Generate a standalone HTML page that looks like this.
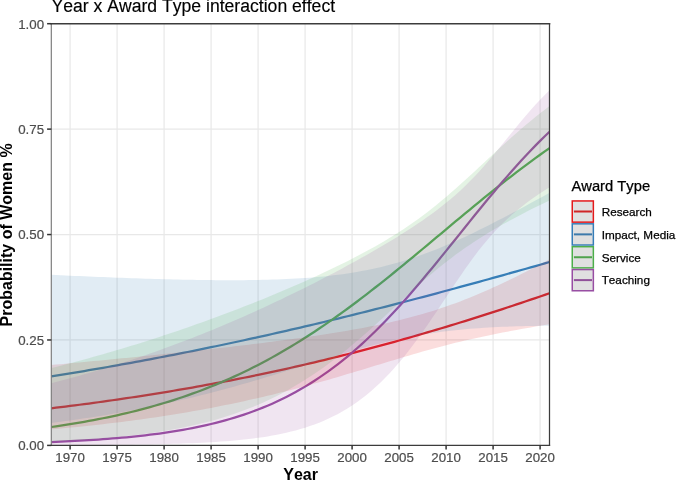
<!DOCTYPE html>
<html><head><meta charset="utf-8"><title>Year x Award Type interaction effect</title>
<style>
html,body{margin:0;padding:0;background:#fff;}
body{width:685px;height:480px;overflow:hidden;}
svg{display:block;font-family:"Liberation Sans",Arial,Helvetica,sans-serif;font-kerning:none;font-variant-ligatures:none;}
</style></head><body>
<svg width="685" height="480" viewBox="0 0 685 480">
<rect width="685" height="480" fill="#fff"/>
<defs><clipPath id="pc"><rect x="51.3" y="23.7" width="498.2" height="421.7"/></clipPath></defs>
<g stroke="#e8e8e8" stroke-width="1.2">
<line x1="70.10" x2="70.10" y1="23.7" y2="445.4"/>
<line x1="117.10" x2="117.10" y1="23.7" y2="445.4"/>
<line x1="164.10" x2="164.10" y1="23.7" y2="445.4"/>
<line x1="211.10" x2="211.10" y1="23.7" y2="445.4"/>
<line x1="258.10" x2="258.10" y1="23.7" y2="445.4"/>
<line x1="305.10" x2="305.10" y1="23.7" y2="445.4"/>
<line x1="352.10" x2="352.10" y1="23.7" y2="445.4"/>
<line x1="399.10" x2="399.10" y1="23.7" y2="445.4"/>
<line x1="446.10" x2="446.10" y1="23.7" y2="445.4"/>
<line x1="493.10" x2="493.10" y1="23.7" y2="445.4"/>
<line x1="540.10" x2="540.10" y1="23.7" y2="445.4"/>
<line x1="51.3" x2="549.5" y1="339.97" y2="339.97"/>
<line x1="51.3" x2="549.5" y1="234.55" y2="234.55"/>
<line x1="51.3" x2="549.5" y1="129.12" y2="129.12"/>
</g>
<g clip-path="url(#pc)">
<path d="M51.30,408.28 L56.00,407.71 L60.70,407.14 L65.40,406.55 L70.10,405.96 L74.80,405.36 L79.50,404.75 L84.20,404.14 L88.90,403.51 L93.60,402.88 L98.30,402.24 L103.00,401.59 L107.70,400.93 L112.40,400.26 L117.10,399.59 L121.80,398.90 L126.50,398.21 L131.20,397.51 L135.90,396.80 L140.60,396.07 L145.30,395.34 L150.00,394.60 L154.70,393.86 L159.40,393.10 L164.10,392.33 L168.80,391.55 L173.50,390.76 L178.20,389.97 L182.90,389.16 L187.60,388.34 L192.30,387.52 L197.00,386.68 L201.70,385.83 L206.40,384.97 L211.10,384.11 L215.80,383.23 L220.50,382.34 L225.20,381.44 L229.90,380.53 L234.60,379.61 L239.30,378.68 L244.00,377.74 L248.70,376.79 L253.40,375.83 L258.10,374.85 L262.80,373.87 L267.50,372.87 L272.20,371.87 L276.90,370.85 L281.60,369.82 L286.30,368.79 L291.00,367.74 L295.70,366.67 L300.40,365.60 L305.10,364.52 L309.80,363.42 L314.50,362.32 L319.20,361.20 L323.90,360.07 L328.60,358.93 L333.30,357.78 L338.00,356.62 L342.70,355.45 L347.40,354.26 L352.10,353.07 L356.80,351.86 L361.50,350.64 L366.20,349.41 L370.90,348.17 L375.60,346.92 L380.30,345.66 L385.00,344.38 L389.70,343.10 L394.40,341.80 L399.10,340.49 L403.80,339.17 L408.50,337.84 L413.20,336.50 L417.90,335.15 L422.60,333.79 L427.30,332.42 L432.00,331.03 L436.70,329.64 L441.40,328.24 L446.10,326.82 L450.80,325.40 L455.50,323.96 L460.20,322.52 L464.90,321.06 L469.60,319.59 L474.30,318.12 L479.00,316.63 L483.70,315.14 L488.40,313.63 L493.10,312.12 L497.80,310.60 L502.50,309.06 L507.20,307.52 L511.90,305.97 L516.60,304.41 L521.30,302.84 L526.00,301.27 L530.70,299.68 L535.40,298.09 L540.10,296.49 L544.80,294.88 L549.50,293.26" fill="none" stroke="#E41A1C" stroke-width="2.25" stroke-linejoin="round"/>
<path d="M51.30,376.41 L56.00,375.66 L60.70,374.90 L65.40,374.14 L70.10,373.37 L74.80,372.60 L79.50,371.82 L84.20,371.03 L88.90,370.23 L93.60,369.43 L98.30,368.62 L103.00,367.81 L107.70,366.99 L112.40,366.16 L117.10,365.32 L121.80,364.48 L126.50,363.64 L131.20,362.78 L135.90,361.92 L140.60,361.05 L145.30,360.18 L150.00,359.29 L154.70,358.41 L159.40,357.51 L164.10,356.61 L168.80,355.70 L173.50,354.78 L178.20,353.86 L182.90,352.93 L187.60,352.00 L192.30,351.05 L197.00,350.10 L201.70,349.15 L206.40,348.18 L211.10,347.21 L215.80,346.24 L220.50,345.26 L225.20,344.27 L229.90,343.27 L234.60,342.27 L239.30,341.26 L244.00,340.24 L248.70,339.22 L253.40,338.19 L258.10,337.15 L262.80,336.11 L267.50,335.06 L272.20,334.00 L276.90,332.94 L281.60,331.87 L286.30,330.80 L291.00,329.72 L295.70,328.63 L300.40,327.54 L305.10,326.43 L309.80,325.33 L314.50,324.22 L319.20,323.10 L323.90,321.97 L328.60,320.84 L333.30,319.71 L338.00,318.56 L342.70,317.41 L347.40,316.26 L352.10,315.10 L356.80,313.93 L361.50,312.76 L366.20,311.58 L370.90,310.40 L375.60,309.21 L380.30,308.02 L385.00,306.82 L389.70,305.62 L394.40,304.41 L399.10,303.19 L403.80,301.97 L408.50,300.75 L413.20,299.52 L417.90,298.28 L422.60,297.04 L427.30,295.80 L432.00,294.55 L436.70,293.29 L441.40,292.03 L446.10,290.77 L450.80,289.50 L455.50,288.23 L460.20,286.96 L464.90,285.68 L469.60,284.39 L474.30,283.11 L479.00,281.81 L483.70,280.52 L488.40,279.22 L493.10,277.92 L497.80,276.61 L502.50,275.30 L507.20,273.99 L511.90,272.67 L516.60,271.35 L521.30,270.03 L526.00,268.71 L530.70,267.38 L535.40,266.05 L540.10,264.72 L544.80,263.38 L549.50,262.04" fill="none" stroke="#377EB8" stroke-width="2.25" stroke-linejoin="round"/>
<path d="M51.30,427.01 L56.00,426.34 L60.70,425.65 L65.40,424.94 L70.10,424.20 L74.80,423.43 L79.50,422.64 L84.20,421.82 L88.90,420.98 L93.60,420.11 L98.30,419.20 L103.00,418.27 L107.70,417.31 L112.40,416.31 L117.10,415.28 L121.80,414.22 L126.50,413.13 L131.20,411.99 L135.90,410.83 L140.60,409.62 L145.30,408.38 L150.00,407.10 L154.70,405.78 L159.40,404.42 L164.10,403.02 L168.80,401.57 L173.50,400.08 L178.20,398.55 L182.90,396.97 L187.60,395.35 L192.30,393.68 L197.00,391.96 L201.70,390.19 L206.40,388.37 L211.10,386.50 L215.80,384.59 L220.50,382.62 L225.20,380.59 L229.90,378.52 L234.60,376.39 L239.30,374.21 L244.00,371.97 L248.70,369.68 L253.40,367.33 L258.10,364.93 L262.80,362.47 L267.50,359.95 L272.20,357.38 L276.90,354.75 L281.60,352.06 L286.30,349.32 L291.00,346.52 L295.70,343.66 L300.40,340.75 L305.10,337.78 L309.80,334.76 L314.50,331.69 L319.20,328.56 L323.90,325.38 L328.60,322.15 L333.30,318.86 L338.00,315.53 L342.70,312.15 L347.40,308.72 L352.10,305.25 L356.80,301.73 L361.50,298.18 L366.20,294.58 L370.90,290.94 L375.60,287.26 L380.30,283.56 L385.00,279.82 L389.70,276.04 L394.40,272.25 L399.10,268.42 L403.80,264.58 L408.50,260.71 L413.20,256.82 L417.90,252.92 L422.60,249.01 L427.30,245.08 L432.00,241.15 L436.70,237.22 L441.40,233.28 L446.10,229.34 L450.80,225.41 L455.50,221.48 L460.20,217.57 L464.90,213.66 L469.60,209.77 L474.30,205.89 L479.00,202.04 L483.70,198.21 L488.40,194.40 L493.10,190.62 L497.80,186.87 L502.50,183.15 L507.20,179.46 L511.90,175.81 L516.60,172.20 L521.30,168.62 L526.00,165.09 L530.70,161.60 L535.40,158.16 L540.10,154.76 L544.80,151.41 L549.50,148.11" fill="none" stroke="#4DAF4A" stroke-width="2.25" stroke-linejoin="round"/>
<path d="M51.30,442.02 L56.00,441.82 L60.70,441.62 L65.40,441.41 L70.10,441.18 L74.80,440.94 L79.50,440.69 L84.20,440.43 L88.90,440.15 L93.60,439.85 L98.30,439.54 L103.00,439.21 L107.70,438.86 L112.40,438.49 L117.10,438.11 L121.80,437.70 L126.50,437.27 L131.20,436.81 L135.90,436.33 L140.60,435.83 L145.30,435.29 L150.00,434.73 L154.70,434.14 L159.40,433.52 L164.10,432.86 L168.80,432.16 L173.50,431.43 L178.20,430.66 L182.90,429.86 L187.60,429.00 L192.30,428.11 L197.00,427.16 L201.70,426.17 L206.40,425.12 L211.10,424.02 L215.80,422.87 L220.50,421.66 L225.20,420.38 L229.90,419.04 L234.60,417.64 L239.30,416.16 L244.00,414.62 L248.70,412.99 L253.40,411.29 L258.10,409.51 L262.80,407.65 L267.50,405.70 L272.20,403.66 L276.90,401.52 L281.60,399.29 L286.30,396.96 L291.00,394.53 L295.70,392.00 L300.40,389.35 L305.10,386.60 L309.80,383.74 L314.50,380.76 L319.20,377.66 L323.90,374.44 L328.60,371.11 L333.30,367.65 L338.00,364.07 L342.70,360.36 L347.40,356.53 L352.10,352.58 L356.80,348.50 L361.50,344.29 L366.20,339.97 L370.90,335.52 L375.60,330.95 L380.30,326.26 L385.00,321.46 L389.70,316.55 L394.40,311.53 L399.10,306.41 L403.80,301.19 L408.50,295.88 L413.20,290.48 L417.90,285.00 L422.60,279.45 L427.30,273.83 L432.00,268.16 L436.70,262.43 L441.40,256.66 L446.10,250.86 L450.80,245.03 L455.50,239.19 L460.20,233.34 L464.90,227.49 L469.60,221.65 L474.30,215.83 L479.00,210.04 L483.70,204.29 L488.40,198.59 L493.10,192.93 L497.80,187.34 L502.50,181.82 L507.20,176.37 L511.90,171.01 L516.60,165.74 L521.30,160.56 L526.00,155.48 L530.70,150.50 L535.40,145.64 L540.10,140.88 L544.80,136.24 L549.50,131.72" fill="none" stroke="#984EA3" stroke-width="2.25" stroke-linejoin="round"/>
<path d="M51.30,365.01 L56.00,364.58 L60.70,364.16 L65.40,363.73 L70.10,363.29 L74.80,362.86 L79.50,362.42 L84.20,361.98 L88.90,361.54 L93.60,361.09 L98.30,360.65 L103.00,360.20 L107.70,359.75 L112.40,359.29 L117.10,358.83 L121.80,358.37 L126.50,357.91 L131.20,357.45 L135.90,356.98 L140.60,356.50 L145.30,356.03 L150.00,355.55 L154.70,355.07 L159.40,354.59 L164.10,354.10 L168.80,353.61 L173.50,353.12 L178.20,352.62 L182.90,352.12 L187.60,351.61 L192.30,351.10 L197.00,350.59 L201.70,350.07 L206.40,349.55 L211.10,349.03 L215.80,348.50 L220.50,347.96 L225.20,347.43 L229.90,346.88 L234.60,346.33 L239.30,345.78 L244.00,345.22 L248.70,344.65 L253.40,344.08 L258.10,343.50 L262.80,342.91 L267.50,342.32 L272.20,341.72 L276.90,341.11 L281.60,340.50 L286.30,339.87 L291.00,339.24 L295.70,338.59 L300.40,337.94 L305.10,337.28 L309.80,336.60 L314.50,335.91 L319.20,335.21 L323.90,334.50 L328.60,333.77 L333.30,333.02 L338.00,332.26 L342.70,331.48 L347.40,330.68 L352.10,329.86 L356.80,329.02 L361.50,328.16 L366.20,327.27 L370.90,326.36 L375.60,325.41 L380.30,324.44 L385.00,323.43 L389.70,322.39 L394.40,321.31 L399.10,320.20 L403.80,319.04 L408.50,317.84 L413.20,316.60 L417.90,315.31 L422.60,313.97 L427.30,312.58 L432.00,311.14 L436.70,309.65 L441.40,308.10 L446.10,306.50 L450.80,304.85 L455.50,303.14 L460.20,301.38 L464.90,299.56 L469.60,297.69 L474.30,295.77 L479.00,293.80 L483.70,291.78 L488.40,289.71 L493.10,287.59 L497.80,285.43 L502.50,283.23 L507.20,280.99 L511.90,278.71 L516.60,276.39 L521.30,274.04 L526.00,271.66 L530.70,269.24 L535.40,266.79 L540.10,264.32 L544.80,261.82 L549.50,259.29 L549.50,324.23 L544.80,325.00 L540.10,325.79 L535.40,326.58 L530.70,327.40 L526.00,328.22 L521.30,329.06 L516.60,329.91 L511.90,330.78 L507.20,331.66 L502.50,332.57 L497.80,333.49 L493.10,334.44 L488.40,335.40 L483.70,336.39 L479.00,337.41 L474.30,338.44 L469.60,339.51 L464.90,340.60 L460.20,341.71 L455.50,342.85 L450.80,344.02 L446.10,345.22 L441.40,346.45 L436.70,347.69 L432.00,348.97 L427.30,350.27 L422.60,351.59 L417.90,352.93 L413.20,354.29 L408.50,355.67 L403.80,357.06 L399.10,358.46 L394.40,359.88 L389.70,361.30 L385.00,362.73 L380.30,364.16 L375.60,365.59 L370.90,367.02 L366.20,368.45 L361.50,369.88 L356.80,371.30 L352.10,372.71 L347.40,374.12 L342.70,375.51 L338.00,376.90 L333.30,378.27 L328.60,379.63 L323.90,380.97 L319.20,382.30 L314.50,383.61 L309.80,384.91 L305.10,386.19 L300.40,387.46 L295.70,388.70 L291.00,389.93 L286.30,391.14 L281.60,392.33 L276.90,393.50 L272.20,394.65 L267.50,395.78 L262.80,396.90 L258.10,397.99 L253.40,399.07 L248.70,400.12 L244.00,401.16 L239.30,402.18 L234.60,403.18 L229.90,404.16 L225.20,405.12 L220.50,406.06 L215.80,406.98 L211.10,407.89 L206.40,408.78 L201.70,409.65 L197.00,410.50 L192.30,411.33 L187.60,412.15 L182.90,412.95 L178.20,413.73 L173.50,414.49 L168.80,415.24 L164.10,415.98 L159.40,416.69 L154.70,417.39 L150.00,418.08 L145.30,418.75 L140.60,419.41 L135.90,420.05 L131.20,420.67 L126.50,421.29 L121.80,421.88 L117.10,422.47 L112.40,423.04 L107.70,423.60 L103.00,424.14 L98.30,424.68 L93.60,425.20 L88.90,425.70 L84.20,426.20 L79.50,426.68 L74.80,427.16 L70.10,427.62 L65.40,428.07 L60.70,428.51 L56.00,428.94 L51.30,429.36Z" fill="#E41A1C" fill-opacity="0.15"/>
<path d="M51.30,274.84 L56.00,275.06 L60.70,275.28 L65.40,275.49 L70.10,275.71 L74.80,275.91 L79.50,276.12 L84.20,276.32 L88.90,276.52 L93.60,276.72 L98.30,276.91 L103.00,277.11 L107.70,277.29 L112.40,277.48 L117.10,277.65 L121.80,277.83 L126.50,278.00 L131.20,278.17 L135.90,278.33 L140.60,278.49 L145.30,278.64 L150.00,278.79 L154.70,278.93 L159.40,279.07 L164.10,279.20 L168.80,279.32 L173.50,279.44 L178.20,279.55 L182.90,279.65 L187.60,279.75 L192.30,279.84 L197.00,279.92 L201.70,279.99 L206.40,280.05 L211.10,280.11 L215.80,280.15 L220.50,280.18 L225.20,280.20 L229.90,280.21 L234.60,280.20 L239.30,280.19 L244.00,280.15 L248.70,280.11 L253.40,280.04 L258.10,279.97 L262.80,279.87 L267.50,279.75 L272.20,279.62 L276.90,279.46 L281.60,279.28 L286.30,279.07 L291.00,278.85 L295.70,278.59 L300.40,278.30 L305.10,277.99 L309.80,277.64 L314.50,277.26 L319.20,276.84 L323.90,276.39 L328.60,275.89 L333.30,275.36 L338.00,274.78 L342.70,274.15 L347.40,273.47 L352.10,272.74 L356.80,271.96 L361.50,271.12 L366.20,270.23 L370.90,269.27 L375.60,268.26 L380.30,267.18 L385.00,266.04 L389.70,264.83 L394.40,263.56 L399.10,262.22 L403.80,260.81 L408.50,259.34 L413.20,257.80 L417.90,256.19 L422.60,254.52 L427.30,252.79 L432.00,251.00 L436.70,249.14 L441.40,247.23 L446.10,245.26 L450.80,243.24 L455.50,241.17 L460.20,239.04 L464.90,236.88 L469.60,234.66 L474.30,232.41 L479.00,230.12 L483.70,227.79 L488.40,225.43 L493.10,223.04 L497.80,220.62 L502.50,218.17 L507.20,215.71 L511.90,213.22 L516.60,210.71 L521.30,208.18 L526.00,205.65 L530.70,203.10 L535.40,200.54 L540.10,197.97 L544.80,195.39 L549.50,192.82 L549.50,325.73 L544.80,325.76 L540.10,325.82 L535.40,325.88 L530.70,325.97 L526.00,326.06 L521.30,326.18 L516.60,326.31 L511.90,326.46 L507.20,326.63 L502.50,326.82 L497.80,327.04 L493.10,327.28 L488.40,327.54 L483.70,327.83 L479.00,328.15 L474.30,328.49 L469.60,328.87 L464.90,329.28 L460.20,329.72 L455.50,330.20 L450.80,330.71 L446.10,331.26 L441.40,331.85 L436.70,332.49 L432.00,333.16 L427.30,333.87 L422.60,334.63 L417.90,335.43 L413.20,336.28 L408.50,337.17 L403.80,338.11 L399.10,339.09 L394.40,340.11 L389.70,341.17 L385.00,342.28 L380.30,343.42 L375.60,344.60 L370.90,345.82 L366.20,347.07 L361.50,348.35 L356.80,349.67 L352.10,351.00 L347.40,352.37 L342.70,353.75 L338.00,355.15 L333.30,356.57 L328.60,358.00 L323.90,359.44 L319.20,360.90 L314.50,362.35 L309.80,363.81 L305.10,365.28 L300.40,366.74 L295.70,368.20 L291.00,369.66 L286.30,371.12 L281.60,372.56 L276.90,374.00 L272.20,375.43 L267.50,376.84 L262.80,378.25 L258.10,379.64 L253.40,381.02 L248.70,382.38 L244.00,383.73 L239.30,385.06 L234.60,386.38 L229.90,387.67 L225.20,388.95 L220.50,390.21 L215.80,391.46 L211.10,392.68 L206.40,393.88 L201.70,395.07 L197.00,396.23 L192.30,397.38 L187.60,398.50 L182.90,399.61 L178.20,400.69 L173.50,401.76 L168.80,402.80 L164.10,403.83 L159.40,404.84 L154.70,405.82 L150.00,406.79 L145.30,407.74 L140.60,408.66 L135.90,409.57 L131.20,410.46 L126.50,411.33 L121.80,412.18 L117.10,413.02 L112.40,413.83 L107.70,414.63 L103.00,415.41 L98.30,416.18 L93.60,416.92 L88.90,417.65 L84.20,418.36 L79.50,419.06 L74.80,419.74 L70.10,420.40 L65.40,421.05 L60.70,421.68 L56.00,422.30 L51.30,422.91Z" fill="#377EB8" fill-opacity="0.15"/>
<path d="M51.30,368.10 L56.00,366.91 L60.70,365.71 L65.40,364.49 L70.10,363.25 L74.80,362.00 L79.50,360.74 L84.20,359.46 L88.90,358.16 L93.60,356.86 L98.30,355.53 L103.00,354.19 L107.70,352.83 L112.40,351.46 L117.10,350.08 L121.80,348.68 L126.50,347.26 L131.20,345.83 L135.90,344.38 L140.60,342.91 L145.30,341.43 L150.00,339.94 L154.70,338.42 L159.40,336.90 L164.10,335.35 L168.80,333.79 L173.50,332.22 L178.20,330.63 L182.90,329.02 L187.60,327.39 L192.30,325.75 L197.00,324.10 L201.70,322.42 L206.40,320.73 L211.10,319.03 L215.80,317.31 L220.50,315.57 L225.20,313.81 L229.90,312.04 L234.60,310.25 L239.30,308.44 L244.00,306.61 L248.70,304.77 L253.40,302.91 L258.10,301.03 L262.80,299.13 L267.50,297.21 L272.20,295.28 L276.90,293.32 L281.60,291.35 L286.30,289.35 L291.00,287.33 L295.70,285.30 L300.40,283.23 L305.10,281.15 L309.80,279.04 L314.50,276.91 L319.20,274.75 L323.90,272.56 L328.60,270.35 L333.30,268.10 L338.00,265.82 L342.70,263.51 L347.40,261.16 L352.10,258.77 L356.80,256.33 L361.50,253.86 L366.20,251.33 L370.90,248.76 L375.60,246.13 L380.30,243.44 L385.00,240.68 L389.70,237.85 L394.40,234.95 L399.10,231.97 L403.80,228.90 L408.50,225.75 L413.20,222.50 L417.90,219.15 L422.60,215.70 L427.30,212.14 L432.00,208.49 L436.70,204.73 L441.40,200.87 L446.10,196.91 L450.80,192.87 L455.50,188.74 L460.20,184.55 L464.90,180.29 L469.60,175.99 L474.30,171.64 L479.00,167.28 L483.70,162.90 L488.40,158.52 L493.10,154.16 L497.80,149.82 L502.50,145.51 L507.20,141.25 L511.90,137.04 L516.60,132.89 L521.30,128.81 L526.00,124.80 L530.70,120.88 L535.40,117.04 L540.10,113.29 L544.80,109.63 L549.50,106.07 L549.50,200.43 L544.80,202.68 L540.10,204.96 L535.40,207.27 L530.70,209.62 L526.00,212.01 L521.30,214.44 L516.60,216.91 L511.90,219.43 L507.20,222.00 L502.50,224.62 L497.80,227.30 L493.10,230.05 L488.40,232.86 L483.70,235.75 L479.00,238.71 L474.30,241.76 L469.60,244.89 L464.90,248.12 L460.20,251.45 L455.50,254.87 L450.80,258.39 L446.10,262.02 L441.40,265.75 L436.70,269.58 L432.00,273.50 L427.30,277.52 L422.60,281.61 L417.90,285.77 L413.20,289.99 L408.50,294.26 L403.80,298.57 L399.10,302.91 L394.40,307.25 L389.70,311.60 L385.00,315.94 L380.30,320.25 L375.60,324.53 L370.90,328.76 L366.20,332.94 L361.50,337.06 L356.80,341.12 L352.10,345.10 L347.40,349.00 L342.70,352.81 L338.00,356.53 L333.30,360.16 L328.60,363.70 L323.90,367.13 L319.20,370.47 L314.50,373.70 L309.80,376.83 L305.10,379.86 L300.40,382.79 L295.70,385.61 L291.00,388.34 L286.30,390.96 L281.60,393.49 L276.90,395.91 L272.20,398.25 L267.50,400.49 L262.80,402.63 L258.10,404.69 L253.40,406.67 L248.70,408.56 L244.00,410.36 L239.30,412.09 L234.60,413.74 L229.90,415.32 L225.20,416.82 L220.50,418.26 L215.80,419.63 L211.10,420.94 L206.40,422.18 L201.70,423.37 L197.00,424.50 L192.30,425.57 L187.60,426.59 L182.90,427.56 L178.20,428.49 L173.50,429.37 L168.80,430.20 L164.10,431.00 L159.40,431.75 L154.70,432.47 L150.00,433.15 L145.30,433.79 L140.60,434.41 L135.90,434.99 L131.20,435.54 L126.50,436.06 L121.80,436.56 L117.10,437.03 L112.40,437.47 L107.70,437.90 L103.00,438.30 L98.30,438.68 L93.60,439.04 L88.90,439.38 L84.20,439.70 L79.50,440.01 L74.80,440.30 L70.10,440.57 L65.40,440.83 L60.70,441.08 L56.00,441.31 L51.30,441.53Z" fill="#4DAF4A" fill-opacity="0.15"/>
<path d="M51.30,383.25 L56.00,382.04 L60.70,380.81 L65.40,379.57 L70.10,378.30 L74.80,377.01 L79.50,375.70 L84.20,374.37 L88.90,373.03 L93.60,371.66 L98.30,370.27 L103.00,368.85 L107.70,367.42 L112.40,365.97 L117.10,364.49 L121.80,363.00 L126.50,361.48 L131.20,359.94 L135.90,358.38 L140.60,356.80 L145.30,355.19 L150.00,353.56 L154.70,351.92 L159.40,350.25 L164.10,348.55 L168.80,346.84 L173.50,345.10 L178.20,343.34 L182.90,341.56 L187.60,339.76 L192.30,337.94 L197.00,336.09 L201.70,334.22 L206.40,332.33 L211.10,330.42 L215.80,328.48 L220.50,326.53 L225.20,324.55 L229.90,322.55 L234.60,320.53 L239.30,318.48 L244.00,316.42 L248.70,314.33 L253.40,312.22 L258.10,310.09 L262.80,307.94 L267.50,305.77 L272.20,303.58 L276.90,301.37 L281.60,299.13 L286.30,296.87 L291.00,294.60 L295.70,292.30 L300.40,289.98 L305.10,287.64 L309.80,285.28 L314.50,282.90 L319.20,280.49 L323.90,278.07 L328.60,275.62 L333.30,273.15 L338.00,270.66 L342.70,268.14 L347.40,265.60 L352.10,263.04 L356.80,260.45 L361.50,257.83 L366.20,255.19 L370.90,252.52 L375.60,249.81 L380.30,247.07 L385.00,244.30 L389.70,241.49 L394.40,238.64 L399.10,235.74 L403.80,232.79 L408.50,229.79 L413.20,226.73 L417.90,223.59 L422.60,220.39 L427.30,217.10 L432.00,213.71 L436.70,210.21 L441.40,206.60 L446.10,202.85 L450.80,198.95 L455.50,194.89 L460.20,190.64 L464.90,186.21 L469.60,181.57 L474.30,176.73 L479.00,171.69 L483.70,166.45 L488.40,161.04 L493.10,155.48 L497.80,149.81 L502.50,144.06 L507.20,138.27 L511.90,132.48 L516.60,126.74 L521.30,121.08 L526.00,115.53 L530.70,110.12 L535.40,104.87 L540.10,99.80 L544.80,94.93 L549.50,90.26 L549.50,187.13 L544.80,190.15 L540.10,193.26 L535.40,196.49 L530.70,199.85 L526.00,203.34 L521.30,206.99 L516.60,210.82 L511.90,214.85 L507.20,219.09 L502.50,223.58 L497.80,228.32 L493.10,233.33 L488.40,238.64 L483.70,244.24 L479.00,250.12 L474.30,256.28 L469.60,262.69 L464.90,269.32 L460.20,276.13 L455.50,283.08 L450.80,290.13 L446.10,297.22 L441.40,304.32 L436.70,311.38 L432.00,318.36 L427.30,325.23 L422.60,331.95 L417.90,338.50 L413.20,344.85 L408.50,350.99 L403.80,356.90 L399.10,362.56 L394.40,367.98 L389.70,373.15 L385.00,378.05 L380.30,382.71 L375.60,387.10 L370.90,391.25 L366.20,395.16 L361.50,398.83 L356.80,402.27 L352.10,405.49 L347.40,408.49 L342.70,411.30 L338.00,413.91 L333.30,416.34 L328.60,418.60 L323.90,420.70 L319.20,422.65 L314.50,424.45 L309.80,426.12 L305.10,427.66 L300.40,429.08 L295.70,430.40 L291.00,431.61 L286.30,432.73 L281.60,433.76 L276.90,434.71 L272.20,435.59 L267.50,436.39 L262.80,437.14 L258.10,437.82 L253.40,438.44 L248.70,439.02 L244.00,439.55 L239.30,440.03 L234.60,440.48 L229.90,440.89 L225.20,441.27 L220.50,441.61 L215.80,441.93 L211.10,442.22 L206.40,442.48 L201.70,442.73 L197.00,442.95 L192.30,443.16 L187.60,443.34 L182.90,443.52 L178.20,443.68 L173.50,443.82 L168.80,443.95 L164.10,444.08 L159.40,444.19 L154.70,444.29 L150.00,444.38 L145.30,444.47 L140.60,444.55 L135.90,444.62 L131.20,444.68 L126.50,444.74 L121.80,444.80 L117.10,444.85 L112.40,444.90 L107.70,444.94 L103.00,444.98 L98.30,445.01 L93.60,445.05 L88.90,445.08 L84.20,445.10 L79.50,445.13 L74.80,445.15 L70.10,445.17 L65.40,445.19 L60.70,445.21 L56.00,445.23 L51.30,445.24Z" fill="#984EA3" fill-opacity="0.15"/>
</g>
<g fill="none" stroke-linecap="square">
<line x1="51.3" y1="23.7" x2="51.3" y2="445.4" stroke="#787878" stroke-width="1.15"/>
<line x1="51.3" y1="23.7" x2="549.5" y2="23.7" stroke="#3c3c3c" stroke-width="1.55"/>
<line x1="549.5" y1="23.7" x2="549.5" y2="445.4" stroke="#3c3c3c" stroke-width="1.25"/>
<line x1="51.3" y1="445.4" x2="549.5" y2="445.4" stroke="#3c3c3c" stroke-width="1.25"/>
</g>
<g stroke="#333" stroke-width="1.5">
<line x1="70.10" x2="70.10" y1="445.4" y2="449.4"/>
<line x1="117.10" x2="117.10" y1="445.4" y2="449.4"/>
<line x1="164.10" x2="164.10" y1="445.4" y2="449.4"/>
<line x1="211.10" x2="211.10" y1="445.4" y2="449.4"/>
<line x1="258.10" x2="258.10" y1="445.4" y2="449.4"/>
<line x1="305.10" x2="305.10" y1="445.4" y2="449.4"/>
<line x1="352.10" x2="352.10" y1="445.4" y2="449.4"/>
<line x1="399.10" x2="399.10" y1="445.4" y2="449.4"/>
<line x1="446.10" x2="446.10" y1="445.4" y2="449.4"/>
<line x1="493.10" x2="493.10" y1="445.4" y2="449.4"/>
<line x1="540.10" x2="540.10" y1="445.4" y2="449.4"/>
<line x1="47.099999999999994" x2="51.3" y1="445.40" y2="445.40"/>
<line x1="47.099999999999994" x2="51.3" y1="339.97" y2="339.97"/>
<line x1="47.099999999999994" x2="51.3" y1="234.55" y2="234.55"/>
<line x1="47.099999999999994" x2="51.3" y1="129.12" y2="129.12"/>
<line x1="47.099999999999994" x2="51.3" y1="23.70" y2="23.70"/>
</g>
<g font-size="13.3" fill="#4d4d4d" stroke="#4d4d4d" stroke-width="0.2">
<text x="70.10" y="461.5" text-anchor="middle">1970</text>
<text x="117.10" y="461.5" text-anchor="middle">1975</text>
<text x="164.10" y="461.5" text-anchor="middle">1980</text>
<text x="211.10" y="461.5" text-anchor="middle">1985</text>
<text x="258.10" y="461.5" text-anchor="middle">1990</text>
<text x="305.10" y="461.5" text-anchor="middle">1995</text>
<text x="352.10" y="461.5" text-anchor="middle">2000</text>
<text x="399.10" y="461.5" text-anchor="middle">2005</text>
<text x="446.10" y="461.5" text-anchor="middle">2010</text>
<text x="493.10" y="461.5" text-anchor="middle">2015</text>
<text x="540.10" y="461.5" text-anchor="middle">2020</text>
<text x="44.1" y="450.30" text-anchor="end">0.00</text>
<text x="44.1" y="344.87" text-anchor="end">0.25</text>
<text x="44.1" y="239.45" text-anchor="end">0.50</text>
<text x="44.1" y="134.03" text-anchor="end">0.75</text>
<text x="44.1" y="28.60" text-anchor="end">1.00</text>
</g>
<text x="51.5" y="12.3" font-size="17.6" fill="#000" stroke="#000" stroke-width="0.15">Year x Award Type interaction effect</text>
<text x="300.6" y="479.6" font-size="16" font-weight="bold" text-anchor="middle" fill="#000">Year</text>
<text transform="translate(11.9,234.9) rotate(-90)" font-size="16" font-weight="bold" text-anchor="middle" fill="#000">Probability of Women %</text>
<text x="571.4" y="190.7" font-size="14.75" fill="#000" stroke="#000" stroke-width="0.25">Award Type</text>
<g fill="#000">
<rect x="572.25" y="200.95" width="21.1" height="21.2" fill="#e0e0e0" stroke="#E41A1C" stroke-width="1.5"/>
<line x1="573.9" x2="592.0" y1="211.50" y2="211.50" stroke="#d02526" stroke-width="2.0"/>
<text x="601.7" y="215.80" font-size="11.73" stroke="#000" stroke-width="0.25">Research</text>
<rect x="572.25" y="223.82" width="21.1" height="21.2" fill="#e0e0e0" stroke="#377EB8" stroke-width="1.5"/>
<line x1="573.9" x2="592.0" y1="234.37" y2="234.37" stroke="#3d7aab" stroke-width="2.0"/>
<text x="601.7" y="238.67" font-size="11.73" stroke="#000" stroke-width="0.25">Impact, Media</text>
<rect x="572.25" y="246.69" width="21.1" height="21.2" fill="#e0e0e0" stroke="#4DAF4A" stroke-width="1.5"/>
<line x1="573.9" x2="592.0" y1="257.24" y2="257.24" stroke="#50a34d" stroke-width="2.0"/>
<text x="601.7" y="261.54" font-size="11.73" stroke="#000" stroke-width="0.25">Service</text>
<rect x="572.25" y="269.56" width="21.1" height="21.2" fill="#e0e0e0" stroke="#984EA3" stroke-width="1.5"/>
<line x1="573.9" x2="592.0" y1="280.11" y2="280.11" stroke="#905199" stroke-width="2.0"/>
<text x="601.7" y="284.41" font-size="11.73" stroke="#000" stroke-width="0.25">Teaching</text>
</g>
</svg>
</body></html>
